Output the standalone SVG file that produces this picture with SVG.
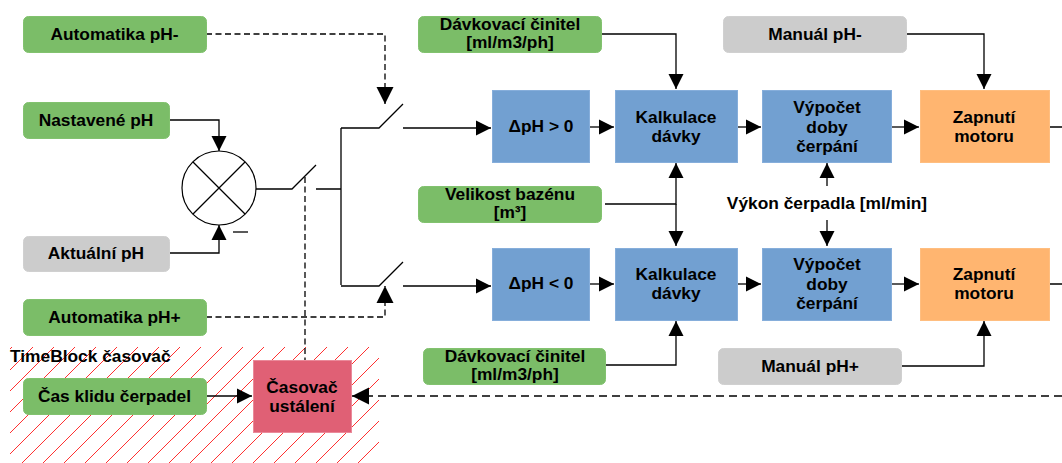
<svg xmlns="http://www.w3.org/2000/svg" width="1062" height="463" viewBox="0 0 1062 463">
<style>
text{font-family:"Liberation Sans",Arial,sans-serif;font-size:17.33px;font-weight:700;fill:#000;text-anchor:middle}
rect.g,rect.y,rect.b,rect.o,rect.r{transform:translate(.5px,.5px)}
.g{fill:#7bbd68;stroke:#82c26f}
.y{fill:#cccccc;stroke:#d0d0d0}
.b{fill:#72a0d1;stroke:#86aedb}
.o{fill:#ffb570;stroke:#ffbe80}
.r{fill:#e06075;stroke:#ea8a9a}
.l{fill:none;stroke:#000;stroke-width:1.3}
.a{marker-end:url(#ar)}
.A{marker-end:url(#AR)}
.d{stroke-dasharray:6 3.5}
.D{stroke-dasharray:8 5}
</style>
<defs>
<marker id="ar" markerUnits="userSpaceOnUse" markerWidth="16" markerHeight="16" refX="15" refY="8" orient="auto"><path d="M0,0.5 L15,8 L0,15.5 Z" fill="#000"/></marker>
<marker id="AR" markerUnits="userSpaceOnUse" markerWidth="18" markerHeight="18" refX="17" refY="9" orient="auto"><path d="M0,0.5 L17,9 L0,17.5 Z" fill="#000"/></marker>
<pattern id="h" patternUnits="userSpaceOnUse" width="21" height="21"><path d="M3,-1 L-1,3 M22,1 L1,22 M23,1 L22,2" fill="none" stroke="#ff3030" stroke-width="1"/></pattern>
</defs>
<g id="hatch"><rect x="10" y="347" width="369" height="116" fill="url(#h)"/></g>
<g id="connectors">
<path class="l d A" d="M206,34 H385 V104"/>
<path class="l a" d="M169,120 H219 V151"/>
<path class="l a" d="M169,253 H219 V225"/>
<path class="l" d="M256,189 H292 L316,165 M316,189 H341 M341,128 V285 M341,128 H379 L403,104"/>
<path class="l" d="M341,286 H379 L403,262"/>
<path class="l a" d="M403,128 H491"/>
<path class="l a" d="M403,286 H491"/>
<path class="l d A" d="M206,317 H385 V286"/>
<path class="l d" d="M305,177 V360"/>
<path class="l a" d="M206,396 H252"/>
<path class="l D A" d="M1062,396 H352"/>
<path class="l a" d="M589,127 H614"/>
<path class="l a" d="M589,284 H614"/>
<path class="l a" d="M737,127 H761"/>
<path class="l a" d="M737,284 H761"/>
<path class="l a" d="M892,127 H919"/>
<path class="l a" d="M892,284 H919"/>
<path class="l" d="M1049,127 H1062 M1049,284 H1062"/>
<path class="l a" d="M602,34 H676 V89"/>
<path class="l a" d="M906,34 H984 V89"/>
<path class="l a" d="M605,204 H676 V163"/>
<path class="l a" d="M676,204 V246"/>
<path class="l a" d="M827,186 V163"/>
<path class="l a" d="M827,220 V246"/>
<path class="l a" d="M606,365 H676 V321"/>
<path class="l a" d="M901,366 H984 V321"/>
<path class="l" d="M233,232 H248"/>
</g>
<g id="mixer"><circle cx="219" cy="188" r="37" fill="#fff" stroke="#000" stroke-width="1.2"/><path class="l" d="M193,162 L245,214 M245,162 L193,214"/></g>
<g id="auto-minus"><rect class="g" x="23" y="16" width="183" height="36" rx="5"/><text x="114.500" y="40">Automatika pH-</text></g>
<g id="nastavene"><rect class="g" x="23" y="102" width="146" height="36" rx="5"/><text x="96" y="126">Nastavené pH</text></g>
<g id="aktualni"><rect class="y" x="23" y="236" width="146" height="35" rx="5"/><text x="96" y="259">Aktuální pH</text></g>
<g id="auto-plus"><rect class="g" x="23" y="299" width="183" height="36" rx="5"/><text x="114.500" y="323">Automatika pH+</text></g>
<g id="cas-klidu"><rect class="g" x="23" y="378" width="183" height="36" rx="5"/><text x="114.500" y="402">Čas klidu čerpadel</text></g>
<text x="10" y="362" style="text-anchor:start">TimeBlock časovač</text>
<g id="casovac"><rect class="r" x="253" y="360" width="98" height="72"/><text x="302" y="393">Časovač</text><text x="302" y="412">ustálení</text></g>
<g id="cinitel1"><rect class="g" x="418" y="16" width="183" height="36" rx="5"/><text x="510" y="30">Dávkovací činitel</text><text x="510" y="48">[ml/m3/ph]</text></g>
<g id="bazen"><rect class="g" x="418" y="186" width="183" height="36" rx="5"/><text x="510" y="200">Velikost bazénu</text><text x="510" y="218">[m³]</text></g>
<g id="cinitel2"><rect class="g" x="423" y="348" width="182" height="36" rx="5"/><text x="515" y="362">Dávkovací činitel</text><text x="515" y="380">[ml/m3/ph]</text></g>
<g id="dph1"><rect class="b" x="492" y="90" width="97" height="72"/><text x="541" y="132">ΔpH &gt; 0</text></g>
<g id="dph2"><rect class="b" x="492" y="248" width="97" height="72"/><text x="541" y="289">ΔpH &lt; 0</text></g>
<g id="kalk1"><rect class="b" x="615" y="90" width="122" height="72"/><text x="676" y="123">Kalkulace</text><text x="676" y="142">dávky</text></g>
<g id="kalk2"><rect class="b" x="615" y="248" width="122" height="72"/><text x="676" y="280">Kalkulace</text><text x="676" y="299">dávky</text></g>
<g id="vyp1"><rect class="b" x="762" y="90" width="129" height="72"/><text x="827" y="113">Výpočet</text><text x="827" y="133">doby</text><text x="827" y="152">čerpání</text></g>
<g id="vyp2"><rect class="b" x="762" y="248" width="129" height="72"/><text x="827" y="270">Výpočet</text><text x="827" y="290">doby</text><text x="827" y="309">čerpání</text></g>
<g id="zap1"><rect class="o" x="920" y="90" width="129" height="72"/><text x="984" y="123">Zapnutí</text><text x="984" y="142">motoru</text></g>
<g id="zap2"><rect class="o" x="920" y="248" width="129" height="72"/><text x="984" y="280">Zapnutí</text><text x="984" y="299">motoru</text></g>
<g id="man1"><rect class="y" x="723" y="16" width="183" height="36" rx="5"/><text x="815" y="40">Manuál pH-</text></g>
<g id="man2"><rect class="y" x="718" y="348" width="183" height="36" rx="5"/><text x="810" y="372">Manuál pH+</text></g>
<text x="827" y="209">Výkon čerpadla [ml/min]</text>
</svg>
